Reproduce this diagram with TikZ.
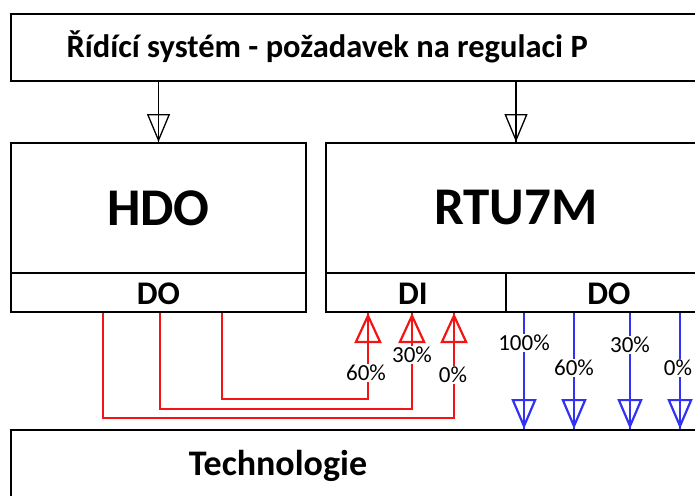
\documentclass[tikz,border=0pt]{standalone}
\usepackage{fontspec}
\setmainfont{Carlito}
\usetikzlibrary{arrows.meta}
\definecolor{myred}{RGB}{245,20,20}
\definecolor{myblue}{RGB}{50,50,245}
\tikzset{
  box/.style={draw=black, line width=2pt, rectangle, inner sep=0pt, anchor=north west},
  big/.style={font=\fontsize{53}{56}\selectfont\bfseries},
  mid/.style={font=\fontsize{33}{36}\selectfont\bfseries},
  pct/.style={font=\fontsize{23}{25}\selectfont, fill=white, inner sep=1pt},
  blkarr/.style={line width=1.3pt, -{Triangle[open, length=28pt, width=23pt, line width=1.3pt]}, postaction={draw, arrows=-}},
  redarr/.style={draw=myred, line width=2.2pt, -{Triangle[open, length=30pt, width=27pt, line width=2.2pt]}, postaction={draw=myred, arrows=-}},
  bluarr/.style={draw=myblue, line width=2.2pt, -{Triangle[open, length=30pt, width=25pt, line width=2.2pt]}, postaction={draw=myblue, arrows=-}},
}
\begin{document}
\begin{tikzpicture}[x=1pt, y=-1pt]
\useasboundingbox (0,0) rectangle (695,495);
\clip (0,0) rectangle (695,495);
% boxes
\node[box, minimum width=700pt, minimum height=67pt] (ctrl) at (10,13) {};
\node[anchor=west, font=\fontsize{32.5}{34}\selectfont\bfseries] (ctrltxt) at (63,47) {Řídící systém - požadavek na regulaci P};
\node[box, minimum width=295pt, minimum height=130pt] (hdo) at (10,142) {};
\node[box, minimum width=295pt, minimum height=39pt] (hdodo) at (10,272) {};
\node[big] (hdotxt) at (hdo.center) {HDO};
\node[mid] (hdodotxt) at ([yshift=-1pt]hdodo.center) {DO};
\node[box, minimum width=380pt, minimum height=130pt] (rtu) at (325,142) {};
\node[box, minimum width=180pt, minimum height=39pt] (di) at (325,272) {};
\node[box, minimum width=200pt, minimum height=39pt] (rtudo) at (505,272) {};
\node[big] (rtutxt) at (rtu.center) {RTU7M};
\node[mid] (ditxt) at ([xshift=-3pt,yshift=-1pt]di.center) {DI};
\node[mid] (rtudotxt) at ([xshift=3pt,yshift=-1pt]rtudo.center) {DO};
\node[box, minimum width=700pt, minimum height=80pt] (tech) at (10,429) {};
\node[font=\fontsize{36}{38}\selectfont\bfseries] (techtxt) at (278,466) {Technologie};
% black arrows
\draw[blkarr] (ctrl.south -| hdo.north) -- (hdo.north);
\draw[blkarr] (ctrl.south -| rtu.north) -- (rtu.north);
% red connectors
\coordinate (a1) at ([xshift=212pt]hdodo.south west);
\coordinate (a2) at ([xshift=150pt]hdodo.south west);
\coordinate (a3) at ([xshift=93pt]hdodo.south west);
\coordinate (b1) at ([xshift=43pt]di.south west);
\coordinate (b2) at ([xshift=87pt]di.south west);
\coordinate (b3) at ([xshift=129pt]di.south west);
\draw[redarr] (a1) -- ++(0,86) -| (b1);
\draw[redarr] (a2) -- ++(0,96) -| (b2);
\draw[redarr] (a3) -- ++(0,105) -| (b3);
\node[pct] (l60) at (366,373) {60\%};
\node[pct] (l30) at (412,355) {30\%};
\node[pct] (l0) at (453,375) {0\%};
% blue connectors
\coordinate (c1) at ([xshift=19pt]rtudo.south west);
\coordinate (c2) at ([xshift=69pt]rtudo.south west);
\coordinate (c3) at ([xshift=125pt]rtudo.south west);
\coordinate (c4) at ([xshift=175pt]rtudo.south west);
\draw[bluarr] (c1) -- (c1 |- tech.north);
\draw[bluarr] (c2) -- (c2 |- tech.north);
\draw[bluarr] (c3) -- (c3 |- tech.north);
\draw[bluarr] (c4) -- (c4 |- tech.north);
\node[pct] (m100) at (524,343) {100\%};
\node[pct] (m60) at (574,368) {60\%};
\node[pct] (m30) at (630,345) {30\%};
\node[pct] (m0) at (678,368) {0\%};
\end{tikzpicture}
\end{document}
